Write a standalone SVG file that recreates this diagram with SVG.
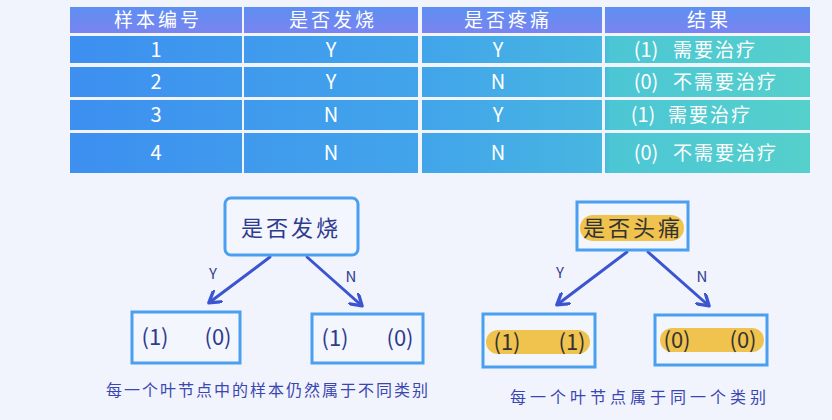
<svg xmlns="http://www.w3.org/2000/svg" width="832" height="420" viewBox="0 0 832 420">
<defs>
<linearGradient id="hdr" gradientUnits="userSpaceOnUse" x1="0" y1="7" x2="0" y2="33">
<stop offset="0" stop-color="#5d8ff2"/><stop offset="1" stop-color="#7a84f0"/>
</linearGradient>
<linearGradient id="body" gradientUnits="userSpaceOnUse" x1="70" y1="0" x2="810" y2="0">
<stop offset="0" stop-color="#3d8ff0"/><stop offset="0.5" stop-color="#42a6ea"/><stop offset="0.72" stop-color="#47b6e0"/><stop offset="0.73" stop-color="#4cc6d4"/><stop offset="1" stop-color="#55d0cc"/>
</linearGradient>
<marker id="ah" viewBox="0 0 10 10" refX="7" refY="5" markerWidth="5" markerHeight="5" orient="auto">
<path d="M0,0 L8,5 L0,10" fill="none" stroke="#3b55d0" stroke-width="2.2" stroke-linejoin="round" stroke-linecap="round"/>
</marker>
</defs>
<style>
.th{font-family:"Noto Sans CJK SC","Noto Sans",sans-serif;font-size:19px;letter-spacing:3px;fill:#fff;text-anchor:middle}
.td{font-family:"Noto Sans CJK SC","Noto Sans",sans-serif;font-size:20px;fill:#fff;text-anchor:middle}
.tr{font-family:"Noto Sans CJK SC","Noto Sans",sans-serif;font-size:19px;letter-spacing:2px;fill:#fff}
.box{fill:#f3f6fd;stroke:#4a9ff0;stroke-width:3}
.nt{font-family:"Noto Sans CJK SC","Noto Sans",sans-serif;font-size:22px;letter-spacing:3px;fill:#2e3b8e;text-anchor:middle}
.nd{font-family:"Noto Sans CJK SC","Noto Sans",sans-serif;font-size:22px;letter-spacing:3px;fill:#333;text-anchor:middle}
.lv{font-family:"Noto Sans CJK SC","Noto Sans",sans-serif;font-size:22px;fill:#2e3b8e;text-anchor:middle}
.lvd{font-family:"Noto Sans CJK SC","Noto Sans",sans-serif;font-size:22px;fill:#333;text-anchor:middle}
.lbl{font-family:"Noto Sans CJK SC","Noto Sans",sans-serif;font-size:15px;fill:#2e3b8e;text-anchor:middle}
.cap{font-family:"Noto Sans CJK SC","Noto Sans",sans-serif;font-size:16px;letter-spacing:2px;fill:#3a47b0;text-anchor:middle}
.hl{fill:#f0c24e}
.edge{stroke:#3b55d0;stroke-width:3;fill:none;marker-end:url(#ah);stroke-linecap:round}
</style>
<rect width="832" height="420" fill="#f1f3fd"/>
<g id="table">
<rect x="70" y="7" width="172" height="26" fill="url(#hdr)"/>
<rect x="244" y="7" width="174" height="26" fill="url(#hdr)"/>
<rect x="422" y="7" width="180" height="26" fill="url(#hdr)"/>
<rect x="605" y="7" width="205" height="26" fill="url(#hdr)"/>
<rect x="70" y="36" width="172" height="27" fill="url(#body)"/>
<rect x="244" y="36" width="174" height="27" fill="url(#body)"/>
<rect x="422" y="36" width="180" height="27" fill="url(#body)"/>
<rect x="605" y="36" width="205" height="27" fill="url(#body)"/>
<rect x="70" y="67" width="172" height="30" fill="url(#body)"/>
<rect x="244" y="67" width="174" height="30" fill="url(#body)"/>
<rect x="422" y="67" width="180" height="30" fill="url(#body)"/>
<rect x="605" y="67" width="205" height="30" fill="url(#body)"/>
<rect x="70" y="100" width="172" height="30" fill="url(#body)"/>
<rect x="244" y="100" width="174" height="30" fill="url(#body)"/>
<rect x="422" y="100" width="180" height="30" fill="url(#body)"/>
<rect x="605" y="100" width="205" height="30" fill="url(#body)"/>
<rect x="70" y="133" width="172" height="40" fill="url(#body)"/>
<rect x="244" y="133" width="174" height="40" fill="url(#body)"/>
<rect x="422" y="133" width="180" height="40" fill="url(#body)"/>
<rect x="605" y="133" width="205" height="40" fill="url(#body)"/>
<text class="th" x="158" y="27">样本编号</text>
<text class="th" x="333" y="27">是否发烧</text>
<text class="th" x="508" y="27">是否疼痛</text>
<text class="th" x="709" y="27">结果</text>
<text class="td" x="156" y="57">1</text>
<text class="td" x="331" y="57">Y</text>
<text class="td" x="498" y="57">Y</text>
<text class="td" x="646" y="57">(1)</text>
<text class="tr" x="673" y="57">需要治疗</text>
<text class="td" x="156" y="89">2</text>
<text class="td" x="331" y="89">Y</text>
<text class="td" x="498" y="89">N</text>
<text class="td" x="646" y="89">(0)</text>
<text class="tr" x="673" y="89">不需要治疗</text>
<text class="td" x="156" y="122">3</text>
<text class="td" x="331" y="122">N</text>
<text class="td" x="498" y="122">Y</text>
<text class="td" x="643" y="122">(1)</text>
<text class="tr" x="668" y="122">需要治疗</text>
<text class="td" x="156" y="160">4</text>
<text class="td" x="331" y="160">N</text>
<text class="td" x="498" y="160">N</text>
<text class="td" x="646" y="160">(0)</text>
<text class="tr" x="673" y="160">不需要治疗</text>
</g>
<g id="connectors">
<line class="edge" x1="270" y1="257" x2="210" y2="302"/>
<line class="edge" x1="307" y1="257" x2="361" y2="305"/>
<line class="edge" x1="627" y1="252" x2="558" y2="304"/>
<line class="edge" x1="648" y1="252" x2="708" y2="305"/>
<text class="lbl" x="213" y="279">Y</text>
<text class="lbl" x="351" y="282">N</text>
<text class="lbl" x="560" y="278">Y</text>
<text class="lbl" x="702" y="282">N</text>
</g>
<g id="node-fever">
<rect class="box" x="225" y="198" width="133" height="57" rx="6"/>
<text class="nt" x="291" y="236">是否发烧</text>
</g>
<g id="leaf-fever-y">
<rect class="box" x="132" y="312" width="108" height="51"/>
<text class="lv" x="155" y="345">(1)</text>
<text class="lv" x="218" y="345">(0)</text>
</g>
<g id="leaf-fever-n">
<rect class="box" x="312" y="314" width="111" height="49"/>
<text class="lv" x="335" y="346">(1)</text>
<text class="lv" x="400" y="346">(0)</text>
</g>
<g id="node-pain">
<rect class="box" x="577" y="202" width="111" height="48"/>
<rect class="hl" x="580" y="215" width="104" height="26" rx="13"/>
<text class="nd" x="633" y="236">是否头痛</text>
</g>
<g id="leaf-pain-y">
<rect class="box" x="483" y="314" width="112" height="53"/>
<rect class="hl" x="486" y="330" width="104" height="24" rx="12"/>
<text class="lvd" x="507" y="350">(1)</text>
<text class="lvd" x="572" y="350">(1)</text>
</g>
<g id="leaf-pain-n">
<rect class="box" x="655" y="315" width="112" height="50"/>
<rect class="hl" x="660" y="328" width="104" height="24" rx="12"/>
<text class="lvd" x="677" y="348">(0)</text>
<text class="lvd" x="743" y="348">(0)</text>
</g>
<text class="cap" x="268" y="396">每一个叶节点中的样本仍然属于不同类别</text>
<text class="cap" x="640" y="403" style="letter-spacing:4px">每一个叶节点属于同一个类别</text>
</svg>
